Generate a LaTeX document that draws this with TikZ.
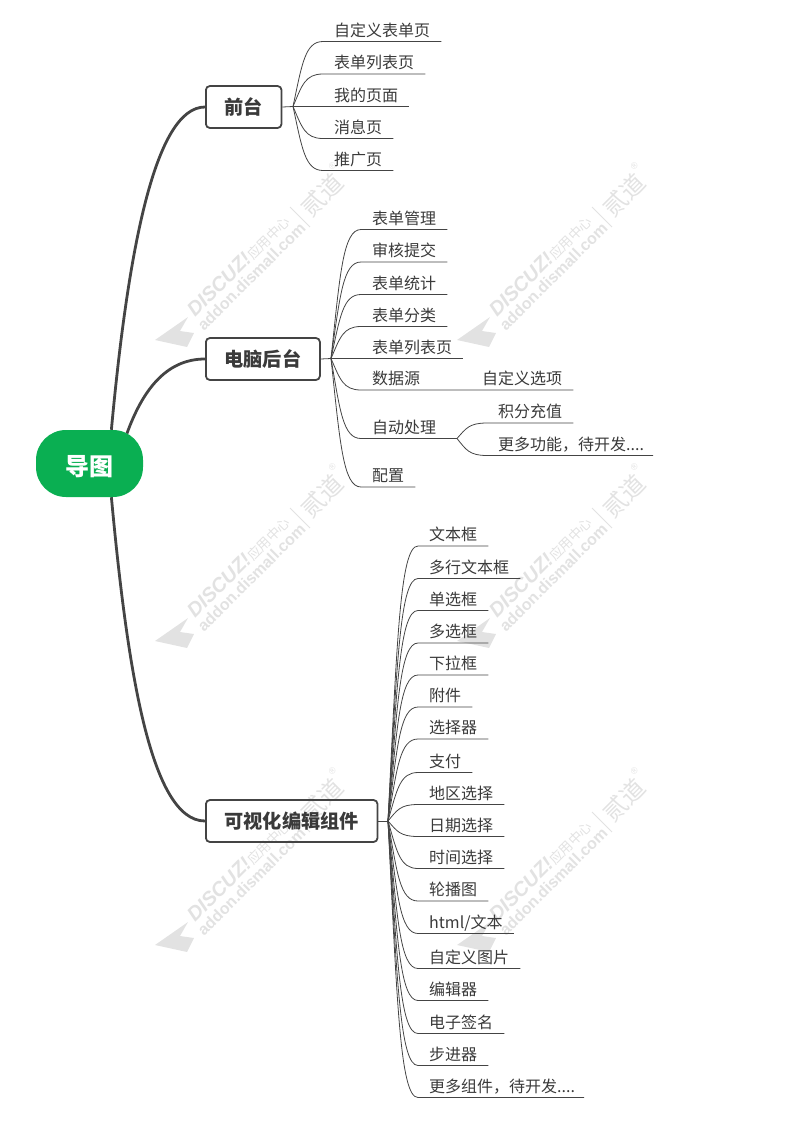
\documentclass[tikz,border=0pt]{standalone}
\usepackage{fontspec}
\setmainfont{Noto Sans CJK SC}
\setsansfont{Liberation Sans}
\usetikzlibrary{calc,backgrounds}
\definecolor{inkgray}{HTML}{444444}
\definecolor{textgray}{HTML}{3A3A3A}
\definecolor{rootgreen}{HTML}{0AAF52}
\definecolor{markgray}{HTML}{E2E2E2}
\tikzset{
  rootnode/.style={fill=rootgreen,text=white,rounded corners=30pt,minimum width=107pt,minimum height=67pt,inner sep=0pt,text height=24pt,text depth=0pt,font=\fontsize{24}{24}\selectfont\bfseries},
  topicbox/.style={draw=inkgray,line width=1.8pt,rounded corners=4pt,anchor=west,minimum height=42pt,inner xsep=18.6pt,inner ysep=0pt,text=textgray,font=\fontsize{19.2}{20}\selectfont\bfseries},
  leafnode/.style={anchor=south west,inner xsep=11pt,inner ysep=2.5pt,text height=13pt,text depth=2.5pt,text=textgray,font=\fontsize{16}{16}\selectfont},
  limb/.style={draw=inkgray,line width=2.8pt},
  twig/.style={draw=inkgray,line width=0.8pt},
  branch/.style={to path={let \p1=(\tikztostart),\p2=(\tikztotarget) in .. controls (\x1+9pt,{0.35*\y1+0.65*\y2}) and (\x1+12pt,\y2) .. (\tikztotarget)}},
  markline/.style={text=markgray,rotate=45,anchor=base west,inner sep=0pt}
}
\begin{document}
\begin{tikzpicture}[x=1pt,y=-1pt]
  \useasboundingbox (0,0) rectangle (807,1122);
  \draw
    (89.5,463.5) node[rootnode] (root){导图}
    (205,107) node[topicbox] (front){前台}
    (205,359) node[topicbox] (admin){电脑后台}
    (205,821) node[topicbox] (widget){可视化编辑组件};
  % watermark
  \begin{pgfonlayer}{background}
    \foreach \cx in {0,302} {
      \foreach \cy in {0,301,605} {
        \begin{scope}[shift={(\cx,\cy)}]
          \fill[markgray] (155,340) -- (188,317) -- (180,331) -- (194,333) -- (187,347) -- cycle;
          \node[markline] (mark\cx\cy a) at (195,318) {\fontsize{20}{20}\sffamily\bfseries\itshape DISCUZ!};
          \node[markline] (mark\cx\cy b) at (253,261) {\fontsize{13.5}{14}\selectfont 应用中心};
          \node[markline] (mark\cx\cy c) at (204,332) {\fontsize{16}{16}\sffamily\bfseries addon.dismall.com};
          \draw[markgray,line width=1pt] (290,207) -- (310,227);
          \node[markline] (mark\cx\cy d) at (311,219) {\fontsize{24}{24}\selectfont 贰道};
          \node[markline] (mark\cx\cy e) at (332,171) {\fontsize{9}{9}\sffamily ®};
        \end{scope}
      }
    }
    \draw[limb] (root.57) .. controls (128,250) and (155,107) .. (front.west);
    \draw[limb,shorten <=-4pt] (root.41) .. controls (142,392) and (165,359) .. (admin.west);
    \draw[limb] (root.-57) .. controls (127,665) and (150,821) .. (widget.west);
  \end{pgfonlayer}
  % front
  \coordinate (fronthub) at (293,106.5);
  \draw
    (323,41.5) node[leafnode] (fronta){自定义表单页}
    (323,74) node[leafnode] (frontb){表单列表页}
    (323,106.5) node[leafnode] (frontc){我的页面}
    (323,138.5) node[leafnode] (frontd){消息页}
    (323,170.5) node[leafnode] (fronte){推广页};
  \begin{scope}[twig]
    \draw (front.east) to (fronthub);
    \draw (fronthub) to[branch] (fronta.south west) -- (fronta.south east);
    \draw (fronthub) to[branch] (frontb.south west) -- (frontb.south east);
    \draw (fronthub) to[branch] (frontc.south west) -- (frontc.south east);
    \draw (fronthub) to[branch] (frontd.south west) -- (frontd.south east);
    \draw (fronthub) to[branch] (fronte.south west) -- (fronte.south east);
  \end{scope}
  % admin
  \coordinate (adminhub) at (331,358.5);
  \coordinate (autohub) at (457,438.5);
  \draw
    (361,229.5) node[leafnode] (admina){表单管理}
    (361,262) node[leafnode] (adminb){审核提交}
    (361,294.5) node[leafnode] (adminc){表单统计}
    (361,326.5) node[leafnode] (admind){表单分类}
    (361,358.5) node[leafnode] (admine){表单列表页}
    (361,390) node[leafnode] (adminf){数据源}
    (471,390) node[leafnode] (adminfa){自定义选项}
    (361,438.5) node[leafnode] (adming){自动处理}
    (487,423) node[leafnode] (autoa){积分充值}
    (487,455.5) node[leafnode] (autob){更多功能，待开发....\kern-2pt}
    (361,487) node[leafnode] (adminh){配置};
  \begin{scope}[twig]
    \draw (admin.east) to (adminhub);
    \draw (adminhub) to[branch] (admina.south west) -- (admina.south east);
    \draw (adminhub) to[branch] (adminb.south west) -- (adminb.south east);
    \draw (adminhub) to[branch] (adminc.south west) -- (adminc.south east);
    \draw (adminhub) to[branch] (admind.south west) -- (admind.south east);
    \draw (adminhub) to[branch] (admine.south west) -- (admine.south east);
    \draw (adminhub) to[branch] (adminf.south west) -- (adminfa.south east);
    \draw (adminhub) to[branch] (adming.south west) -- (autohub);
    \draw (adminhub) to[branch] (adminh.south west) -- (adminh.south east);
    \draw (autohub) to[branch] (autoa.south west) -- (autoa.south east);
    \draw (autohub) to[branch] (autob.south west) -- (autob.south east);
  \end{scope}
  % widget
  \coordinate (widgethub) at (388,821);
  \draw
    (418,546) node[leafnode] (widgeta){文本框}
    (418,578.5) node[leafnode] (widgetb){多行文本框}
    (418,610.5) node[leafnode] (widgetc){单选框}
    (418,643) node[leafnode] (widgetd){多选框}
    (418,675) node[leafnode] (widgete){下拉框}
    (418,707) node[leafnode] (widgetf){附件}
    (418,739) node[leafnode] (widgetg){选择器}
    (418,772.5) node[leafnode] (widgeth){支付}
    (418,804.5) node[leafnode] (widgeti){地区选择}
    (418,836.5) node[leafnode] (widgetj){日期选择}
    (418,868.5) node[leafnode] (widgetk){时间选择}
    (418,901) node[leafnode] (widgetl){轮播图}
    (418,933.5) node[leafnode] (widgetm){html/文本}
    (418,968.5) node[leafnode] (widgetn){自定义图片}
    (418,1000.5) node[leafnode] (widgeto){编辑器}
    (418,1033.5) node[leafnode] (widgetp){电子签名}
    (418,1065.5) node[leafnode] (widgetq){步进器}
    (418,1097.5) node[leafnode] (widgetr){更多组件，待开发....\kern-2pt};
  \begin{scope}[twig]
    \draw (widget.east) to (widgethub);
    \draw (widgethub) to[branch] (widgeta.south west) -- (widgeta.south east);
    \draw (widgethub) to[branch] (widgetb.south west) -- (widgetb.south east);
    \draw (widgethub) to[branch] (widgetc.south west) -- (widgetc.south east);
    \draw (widgethub) to[branch] (widgetd.south west) -- (widgetd.south east);
    \draw (widgethub) to[branch] (widgete.south west) -- (widgete.south east);
    \draw (widgethub) to[branch] (widgetf.south west) -- (widgetf.south east);
    \draw (widgethub) to[branch] (widgetg.south west) -- (widgetg.south east);
    \draw (widgethub) to[branch] (widgeth.south west) -- (widgeth.south east);
    \draw (widgethub) to[branch] (widgeti.south west) -- (widgeti.south east);
    \draw (widgethub) to[branch] (widgetj.south west) -- (widgetj.south east);
    \draw (widgethub) to[branch] (widgetk.south west) -- (widgetk.south east);
    \draw (widgethub) to[branch] (widgetl.south west) -- (widgetl.south east);
    \draw (widgethub) to[branch] (widgetm.south west) -- (widgetm.south east);
    \draw (widgethub) to[branch] (widgetn.south west) -- (widgetn.south east);
    \draw (widgethub) to[branch] (widgeto.south west) -- (widgeto.south east);
    \draw (widgethub) to[branch] (widgetp.south west) -- (widgetp.south east);
    \draw (widgethub) to[branch] (widgetq.south west) -- (widgetq.south east);
    \draw (widgethub) to[branch] (widgetr.south west) -- (widgetr.south east);
  \end{scope}
\end{tikzpicture}
\end{document}
